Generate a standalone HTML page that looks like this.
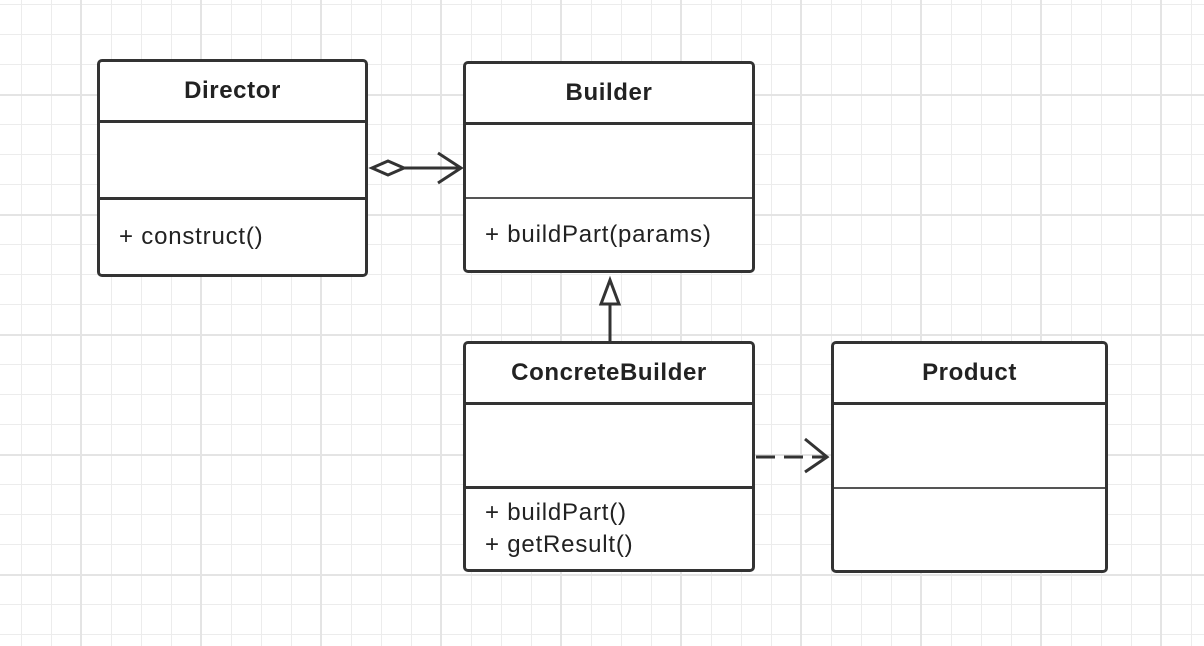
<!DOCTYPE html>
<html><head><style>
html,body{margin:0;padding:0;background:#fff;}
body{width:1204px;height:646px;overflow:hidden;position:relative;
background-image:
linear-gradient(to right,#e4e4e4 2px,transparent 2px),
linear-gradient(to bottom,#e4e4e4 2px,transparent 2px),
linear-gradient(to right,#ececec 1px,transparent 1px),
linear-gradient(to bottom,#ececec 1px,transparent 1px);
background-size:120px 120px,120px 120px,30px 30px,30px 30px;
background-position:80px 0,0 94px,21px 0,0 4px;
font-family:"Liberation Sans",Arial,sans-serif;}
.box{position:absolute;border:3px solid #333;border-radius:5px;background:#fff;box-sizing:border-box;}
.hd{position:absolute;left:0;right:0;top:0;text-align:center;font-weight:bold;font-size:24px;letter-spacing:0.6px;color:#222;}
.ln{position:absolute;left:0;right:0;height:0;border-top:3px solid #333;}
.ln2{position:absolute;left:0;right:0;height:0;border-top:2px solid #555;}
.tx{position:absolute;left:19px;font-size:24px;letter-spacing:0.8px;color:#222;line-height:32px;}
</style></head><body>
<div class="box" style="left:97px;top:59px;width:271px;height:218px">
<div class="hd" style="top:15px">Director</div>
<div class="ln" style="top:58px"></div>
<div class="ln" style="top:135px"></div>
<div class="tx" style="top:159px">+ construct()</div>
</div>
<div class="box" style="left:463px;top:61px;width:292px;height:212px">
<div class="hd" style="top:15px">Builder</div>
<div class="ln" style="top:58px"></div>
<div class="ln2" style="top:133px"></div>
<div class="tx" style="top:155px">+ buildPart(params)</div>
</div>
<div class="box" style="left:463px;top:341px;width:292px;height:231px">
<div class="hd" style="top:15px">ConcreteBuilder</div>
<div class="ln" style="top:58px"></div>
<div class="ln" style="top:142px"></div>
<div class="tx" style="top:153px">+ buildPart()<br>+ getResult()</div>
</div>
<div class="box" style="left:831px;top:341px;width:277px;height:232px">
<div class="hd" style="top:15px">Product</div>
<div class="ln" style="top:58px"></div>
<div class="ln2" style="top:143px"></div>
</div>
<svg width="1204" height="646" style="position:absolute;left:0;top:0" fill="none" stroke="#333" stroke-width="3">
<polygon points="372,168 388,161 404,168 388,175" fill="#fff"/>
<line x1="404" y1="168" x2="461" y2="168"/>
<polyline points="438,153 461,168 438,183"/>
<line x1="610" y1="304" x2="610" y2="341"/>
<polygon points="610,280 619,304 601,304" fill="#fff"/>
<line x1="756" y1="457" x2="827" y2="457" stroke-dasharray="19,9"/>
<polyline points="805,439 827,457 805,472"/>
</svg>
</body></html>
